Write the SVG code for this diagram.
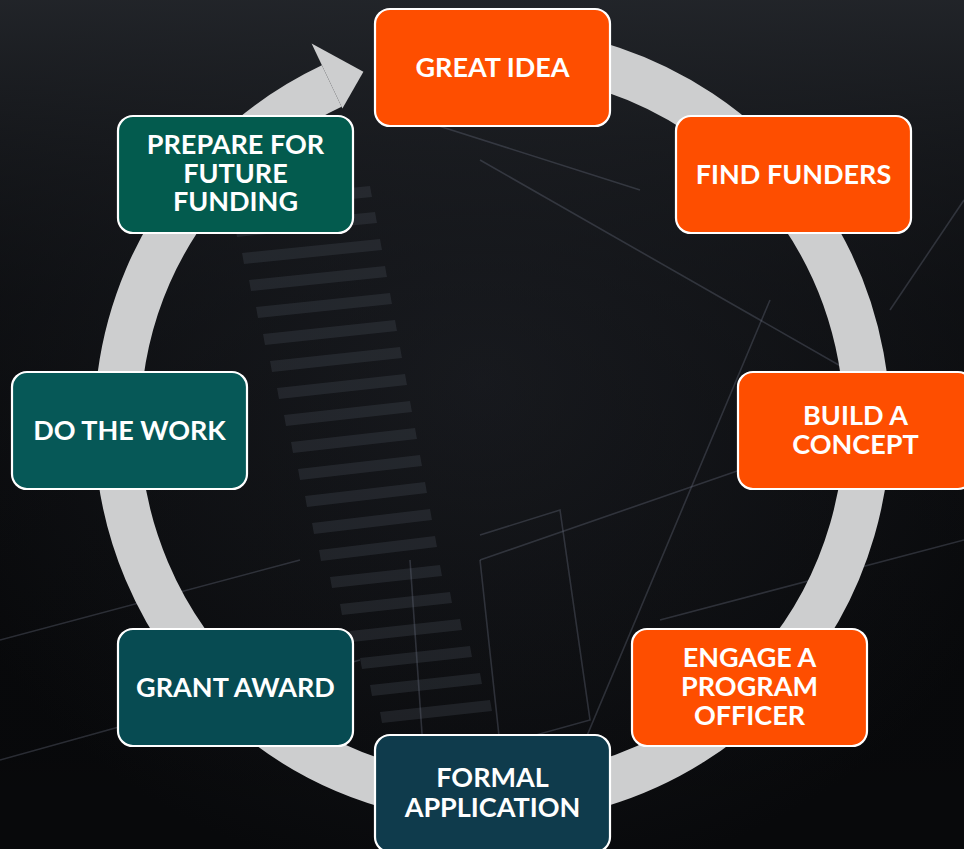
<svg xmlns="http://www.w3.org/2000/svg" width="964" height="849" viewBox="0 0 964 849">
  <defs>
    <linearGradient id="bgTop" x1="0" y1="0" x2="0" y2="1">
      <stop offset="0" stop-color="#24272c" stop-opacity="0.9"/>
      <stop offset="0.35" stop-color="#15171b" stop-opacity="0.4"/>
      <stop offset="1" stop-color="#000000" stop-opacity="0"/>
    </linearGradient>
    <radialGradient id="bgGlow" cx="0.5" cy="0.45" r="0.6">
      <stop offset="0" stop-color="#1a1c21"/>
      <stop offset="1" stop-color="#08090b"/>
    </radialGradient>
    <style>
      .box { stroke: #ffffff; stroke-width: 2.2; }
      .orange { fill: #fe4e00; }
      .lbl { font-family: "Lato", "Liberation Sans", sans-serif; font-weight: 700; font-size: 27px; fill: #ffffff; text-anchor: middle; }
      .deco { stroke: #6b7080; stroke-width: 1.6; fill: none; opacity: 0.35; }
      .bar { fill: #4a4e58; opacity: 0.3; }
      .ring { fill: none; stroke: #cdcecf; stroke-width: 46; }
    </style>
  </defs>

  <!-- background -->
  <rect x="0" y="0" width="964" height="849" fill="url(#bgGlow)"/>
  <rect x="0" y="0" width="964" height="849" fill="url(#bgTop)"/>
  <g id="background-decor">
    <g class="bars">
      <polygon class="bar" points="228,200 370,186 372,197 230,211"/>
      <polygon class="bar" points="235,226 375,212 377,223 237,237"/>
      <polygon class="bar" points="242,253 380,239 382,250 244,264"/>
      <polygon class="bar" points="249,280 385,266 387,277 251,291"/>
      <polygon class="bar" points="256,307 390,293 392,304 258,318"/>
      <polygon class="bar" points="263,334 395,320 397,331 265,345"/>
      <polygon class="bar" points="270,361 400,347 402,358 272,372"/>
      <polygon class="bar" points="277,388 405,374 407,385 279,399"/>
      <polygon class="bar" points="284,415 410,401 412,412 286,426"/>
      <polygon class="bar" points="291,442 415,428 417,439 293,453"/>
      <polygon class="bar" points="298,469 420,455 422,466 300,480"/>
      <polygon class="bar" points="305,496 425,482 427,493 307,507"/>
      <polygon class="bar" points="312,523 430,509 432,520 314,534"/>
      <polygon class="bar" points="319,550 435,536 437,547 321,561"/>
      <polygon class="bar" points="330,577 440,565 442,576 332,588"/>
      <polygon class="bar" points="340,604 450,592 452,603 342,615"/>
      <polygon class="bar" points="350,631 460,619 462,630 352,642"/>
      <polygon class="bar" points="360,658 470,646 472,657 362,669"/>
      <polygon class="bar" points="370,685 480,673 482,684 372,696"/>
      <polygon class="bar" points="380,712 490,700 492,711 382,723"/>
    </g>
    <line class="deco" x1="480" y1="160" x2="900" y2="400"/>
    <line class="deco" x1="420" y1="120" x2="640" y2="190"/>
    <line class="deco" x1="560" y1="800" x2="770" y2="300"/>
    <line class="deco" x1="660" y1="620" x2="964" y2="540"/>
    <line class="deco" x1="480" y1="560" x2="740" y2="470"/>
    <polyline class="deco" points="480,535 560,510 590,720 500,745 480,560"/>
    <line class="deco" x1="890" y1="310" x2="964" y2="200"/>
    <line class="deco" x1="0" y1="640" x2="300" y2="560"/>
    <line class="deco" x1="0" y1="760" x2="360" y2="660"/>
    <line class="deco" x1="410" y1="560" x2="430" y2="849"/>
  </g>

  <!-- connectors: circular cycle arrow -->
  <g id="connectors">
    <path class="ring" d="M 439.8 53.6 A 375 375 0 1 1 331.7 86.0"/>
    <polygon fill="#cdcecf" points="311.6,43.5 363.4,71.7 342.4,108.6"/>
  </g>

  <!-- nodes -->
  <g id="node-great-idea">
    <rect class="box orange" x="375" y="9" width="235" height="117" rx="15"/>
    <text class="lbl" x="492.5" y="77">GREAT IDEA</text>
  </g>
  <g id="node-find-funders">
    <rect class="box orange" x="676" y="116" width="235" height="117" rx="15"/>
    <text class="lbl" x="793.5" y="184">FIND FUNDERS</text>
  </g>
  <g id="node-build-concept">
    <rect class="box orange" x="738" y="372" width="235" height="117" rx="15"/>
    <text class="lbl" x="855.5" y="425">BUILD A</text>
    <text class="lbl" x="855.5" y="453.6">CONCEPT</text>
  </g>
  <g id="node-engage-officer">
    <rect class="box orange" x="632" y="629" width="235" height="117" rx="15"/>
    <text class="lbl" x="749.5" y="667">ENGAGE A</text>
    <text class="lbl" x="749.5" y="696">PROGRAM</text>
    <text class="lbl" x="749.5" y="725">OFFICER</text>
  </g>
  <g id="node-formal-application">
    <rect class="box" fill="#0f3b4c" x="375" y="735" width="235" height="117" rx="15"/>
    <text class="lbl" x="492.5" y="787">FORMAL</text>
    <text class="lbl" x="492.5" y="816.5">APPLICATION</text>
  </g>
  <g id="node-grant-award">
    <rect class="box" fill="#074b52" x="118" y="629" width="235" height="117" rx="15"/>
    <text class="lbl" x="235.5" y="697">GRANT AWARD</text>
  </g>
  <g id="node-do-the-work">
    <rect class="box" fill="#065857" x="12" y="372" width="235" height="117" rx="15"/>
    <text class="lbl" x="129.5" y="440">DO THE WORK</text>
  </g>
  <g id="node-prepare-future">
    <rect class="box" fill="#035b4e" x="118" y="116" width="235" height="117" rx="15"/>
    <text class="lbl" x="235.5" y="154">PREPARE FOR</text>
    <text class="lbl" x="235.5" y="182.7">FUTURE</text>
    <text class="lbl" x="235.5" y="211.3">FUNDING</text>
  </g>
</svg>
